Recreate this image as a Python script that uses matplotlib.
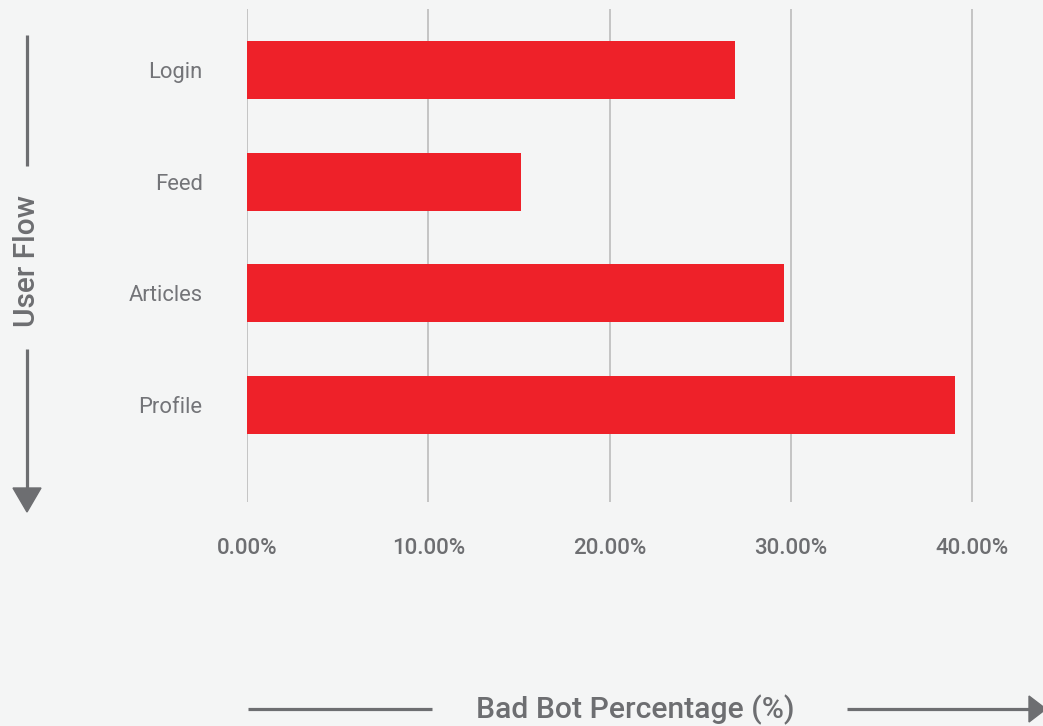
import matplotlib
matplotlib.use("Agg")
import matplotlib.pyplot as plt
from matplotlib.patches import Polygon
from matplotlib.ticker import FuncFormatter

# data
flows = ["Login", "Feed", "Articles", "Profile"]
bad_bot_pct = [26.9, 15.1, 29.6, 39.05]
x_ticks = [0, 10, 20, 30, 40]

BG = "#f4f5f5"
RED = "#ee2129"
GREY = "#6d6e71"
GRID = "#c4c4c4"

plt.rcParams["font.family"] = ["Roboto", "DejaVu Sans"]

W, H = 1043, 726
fig = plt.figure(figsize=(W / 100, H / 100), dpi=100, facecolor=BG)

# main bar axes, placed in pixel terms
ax = fig.add_axes([247 / W, 1 - 502 / H, (W - 247) / W, (502 - 9) / H])
ax.set_facecolor("none")
ax.barh(range(len(flows)), bad_bot_pct, height=0.52, color=RED, zorder=3)
ax.set_xlim(0, (W - 247) / 18.13)
ax.set_ylim(3.868, -0.546)

ax.set_yticks(range(len(flows)))
ax.set_yticklabels(flows, fontsize=15.8, fontweight="normal", color="#737478")
ax.set_xticks(x_ticks)
ax.xaxis.set_major_formatter(FuncFormatter(lambda v, p: f"{v:.2f}%"))
for lab in ax.get_xticklabels():
    lab.set_fontsize(16)
    lab.set_fontweight("medium")
    lab.set_color(GREY)
# pads are in points (0.72 pt per pixel at 100 dpi)
ax.tick_params(axis="y", length=0, pad=32)
ax.tick_params(axis="x", length=0, pad=26)
ax.grid(axis="x", color=GRID, linewidth=1.4, zorder=1)
for s in ax.spines.values():
    s.set_visible(False)

# overlay for the axis titles and arrows (pixel coords, y down)
ov = fig.add_axes([0, 0, 1, 1])
ov.set_xlim(0, W)
ov.set_ylim(H, 0)
ov.axis("off")
ov.patch.set_alpha(0)

# vertical "User Flow" arrow
ov.plot([27, 27], [35, 166], color=GREY, lw=2.3, solid_capstyle="butt")
ov.plot([27, 27], [349, 490], color=GREY, lw=2.3, solid_capstyle="butt")
ov.add_patch(Polygon([(13, 488), (41, 488), (27, 512)], closed=True, color=GREY))
ov.text(27, 261, "User Flow", rotation=90, ha="center", va="center",
        fontsize=21.5, fontweight="medium", color=GREY)

# horizontal "Bad Bot Percentage" arrow
ov.plot([248, 432], [709, 709], color=GREY, lw=2.3, solid_capstyle="butt")
ov.plot([847, 1031], [709, 709], color=GREY, lw=2.3, solid_capstyle="butt")
ov.add_patch(Polygon([(1029, 696), (1029, 722), (1046, 709)], closed=True, color=GREY))
ov.text(635, 710, "Bad Bot Percentage (%)", ha="center", va="center",
        fontsize=21.7, fontweight="medium", color=GREY)

fig.savefig("out.png", dpi=100, facecolor=BG)
plt.close(fig)
